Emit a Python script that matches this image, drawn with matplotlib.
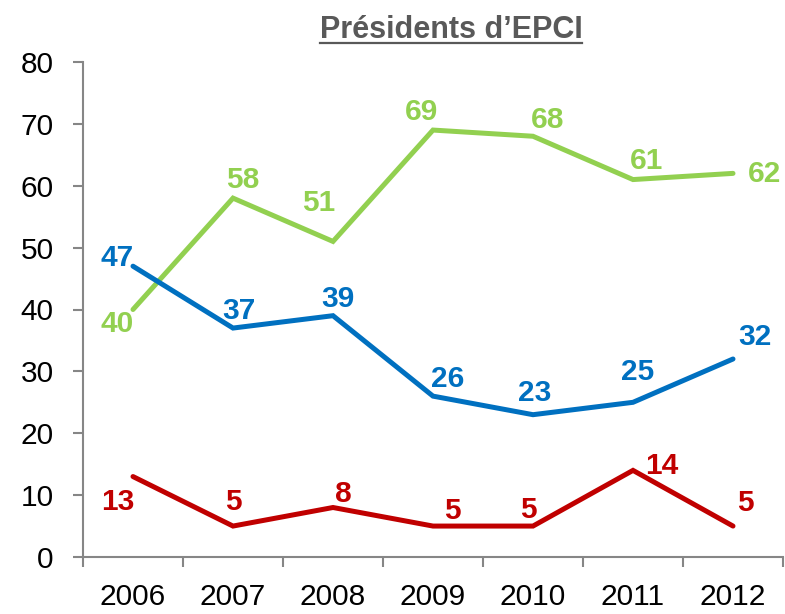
import matplotlib
matplotlib.use("Agg")
from matplotlib import pyplot as plt
from matplotlib.lines import Line2D

plt.rcParams['font.family'] = ['Liberation Sans', 'DejaVu Sans']

# yearly counts for each series
years = ['2006', '2007', '2008', '2009', '2010', '2011', '2012']
green_vals = [40, 58, 51, 69, 68, 61, 62]
blue_vals = [47, 37, 39, 26, 23, 25, 32]
red_vals = [13, 5, 8, 5, 5, 14, 5]

# label offsets in pixels (dx, dy) for each point
green_off = [(-16, -14), (10, 18), (-14, 38), (-11, 18), (15, 16), (14, 19), (32, -1)]
blue_off = [(-16, 8), (6, 17), (5, 17), (15, 17), (2, 22), (5, 30), (22, 22)]
red_off = [(-15, -25), (0, 24), (10, 14), (19, 15), (-5, 16), (29, 4), (12, 23)]

GREEN = '#92D050'
BLUE = '#0070C0'
RED = '#C00000'
GREY = '#868686'

fig = plt.figure(figsize=(7.85, 6.14), dpi=100)
ax = fig.add_axes([83 / 785, 57 / 614, 700 / 785, 495 / 614])

x = list(range(len(years)))
for vals, offs, col in [(green_vals, green_off, GREEN),
                        (blue_vals, blue_off, BLUE),
                        (red_vals, red_off, RED)]:
  ax.plot(x, vals, color=col, lw=3.6, solid_capstyle='round',
          solid_joinstyle='miter', clip_on=False)
  for xi, v, (dx, dy) in zip(x, vals, offs):
    ax.annotate(str(v), (xi, v), xytext=(dx, dy), textcoords='offset pixels',
                ha='center', va='center', color=col, fontsize=21.5,
                fontweight='bold')

# category axis: ticks sit between the years
ax.set_xlim(-0.5, len(years) - 0.5)
ax.set_xticks([i - 0.5 for i in range(len(years) + 1)])
ax.set_xticklabels([])
ax.set_xticks(x, minor=True)
ax.set_xticklabels(years, minor=True)
ax.tick_params(axis='x', which='minor', length=0, pad=19, labelsize=21.5)
ax.tick_params(axis='x', which='major', length=7, width=1.5, color=GREY,
               direction='out')

ax.set_ylim(0, 80)
ax.set_yticks(range(0, 81, 10))
ax.tick_params(axis='y', length=7, width=1.5, color=GREY, pad=14,
               labelsize=21.5)

for side in ['top', 'right']:
  ax.spines[side].set_visible(False)
for side in ['left', 'bottom']:
  ax.spines[side].set_color(GREY)
  ax.spines[side].set_linewidth(1.5)

# underlined title
title = fig.text(451 / 785, 1 - 38 / 614, 'Présidents d’EPCI', ha='center',
                 va='baseline', fontsize=22, fontweight='bold', color='#595959')
fig.canvas.draw()
bb = title.get_window_extent().transformed(fig.transFigure.inverted())
uy = 1 - 43 / 614
fig.add_artist(Line2D([bb.x0, bb.x1], [uy, uy], transform=fig.transFigure,
                      color='#595959', lw=1.6))

fig.savefig('out.png', dpi=100)
